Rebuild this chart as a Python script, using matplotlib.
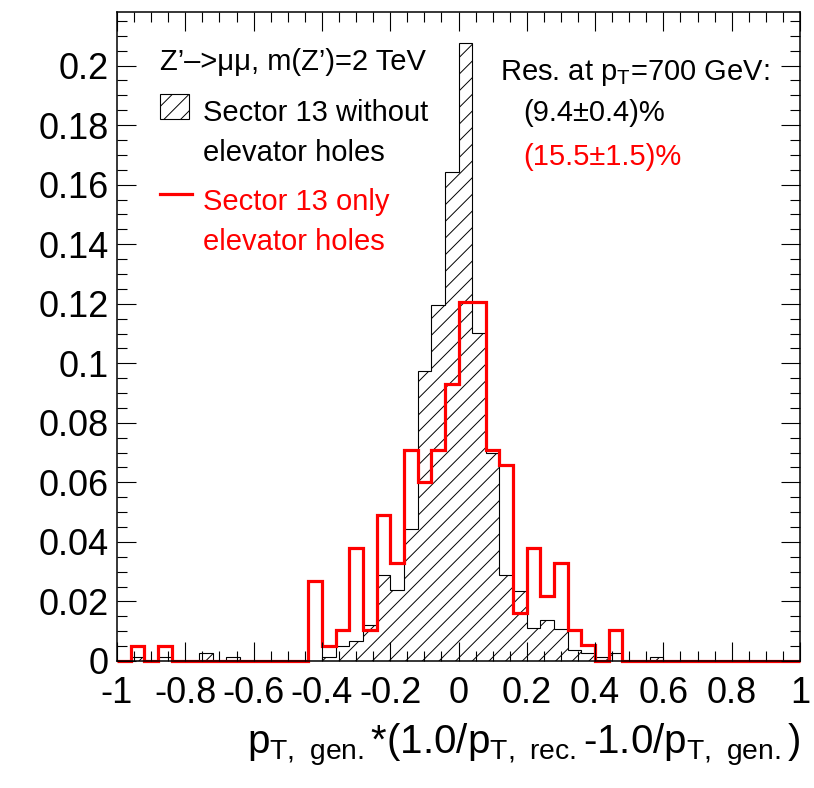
import numpy as np
import matplotlib
matplotlib.use("Agg")
import matplotlib.pyplot as plt
from matplotlib.patches import Rectangle
from matplotlib.lines import Line2D
from matplotlib.ticker import FixedLocator, MultipleLocator, FixedFormatter

plt.rcParams['font.family'] = ['Liberation Sans', 'DejaVu Sans']
plt.rcParams['mathtext.default'] = 'regular'
plt.rcParams['hatch.linewidth'] = 0.7

# ---- data (bin width 0.04 from -1 to 1) ----
bin_edges = np.round(np.linspace(-1.0, 1.0, 51), 2)

without_holes = [
    0, 0.0013, 0, 0.0013, 0, 0, 0.0026, 0, 0.0013, 0,
    0, 0, 0, 0, 0, 0.0013, 0.005, 0.0068, 0.012, 0.029,
    0.024, 0.0444, 0.0974, 0.1196, 0.1644, 0.2076, 0.1102, 0.070, 0.029, 0.0235,
    0.011, 0.0137, 0.0108, 0.0038, 0.0026, 0.0013, 0.0026, 0, 0, 0.0013,
    0, 0, 0, 0, 0, 0, 0, 0, 0, 0,
]
only_holes = [
    0, 0.0052, 0, 0.0052, 0, 0, 0, 0, 0, 0,
    0, 0, 0, 0, 0.027, 0.0052, 0.0105, 0.038, 0.0105, 0.049,
    0.033, 0.071, 0.060, 0.071, 0.093, 0.1206, 0.1206, 0.071, 0.066, 0.016,
    0.038, 0.022, 0.033, 0.0105, 0.0055, 0, 0.0105, 0, 0, 0,
    0, 0, 0, 0, 0, 0, 0, 0, 0, 0,
]

x_ticks = [-1, -0.8, -0.6, -0.4, -0.2, 0, 0.2, 0.4, 0.6, 0.8, 1]
x_tick_labels = ["-1", "-0.8", "-0.6", "-0.4", "-0.2", "0", "0.2", "0.4", "0.6", "0.8", "1"]
y_ticks = [0, 0.02, 0.04, 0.06, 0.08, 0.1, 0.12, 0.14, 0.16, 0.18, 0.2]
y_tick_labels = ["0", "0.02", "0.04", "0.06", "0.08", "0.1", "0.12", "0.14", "0.16", "0.18", "0.2"]

W, H = 814, 788
fig = plt.figure(figsize=(W / 100, H / 100), dpi=100)
L, R, T, B = 117, 800, 12, 661
ax = fig.add_axes([L / W, 1 - B / H, (R - L) / W, (B - T) / H])

ax.stairs(without_holes, bin_edges, fill=True, facecolor='white',
          edgecolor='black', hatch='//', linewidth=0.8)
ax.stairs(only_holes, bin_edges, color='red', linewidth=2.3, clip_on=False)

ax.set_xlim(-1, 1)
ax.set_ylim(0, 0.218)

ax.xaxis.set_major_locator(FixedLocator(x_ticks))
ax.xaxis.set_major_formatter(FixedFormatter(x_tick_labels))
ax.xaxis.set_minor_locator(MultipleLocator(0.05))
ax.yaxis.set_major_locator(FixedLocator(y_ticks))
ax.yaxis.set_major_formatter(FixedFormatter(y_tick_labels))
ax.yaxis.set_minor_locator(MultipleLocator(0.005))

ax.tick_params(which='both', direction='in', top=True, right=True, width=0.8)
ax.tick_params(which='major', length=14, labelsize=26)
ax.tick_params(axis='x', which='major', pad=11)
ax.tick_params(axis='y', which='major', pad=6)
ax.tick_params(which='minor', length=7)
for s in ax.spines.values():
    s.set_linewidth(1.1)

ax.set_xlabel(r'p$_{T,\ gen.}$*(1.0/p$_{T,\ rec.}$-1.0/p$_{T,\ gen.}$)',
              fontsize=29, loc='right', labelpad=8)

# ---- legend (manual, ROOT-like) ----
def ax_x(px):
    return (px - L) / (R - L)

def ax_y(py):
    return (B - py) / (B - T)

fs = 21
ax.text(ax_x(160), ax_y(70), 'Z\u2019\u2013>\u03bc\u03bc, m(Z\u2019)=2 TeV',
        transform=ax.transAxes, fontsize=fs, va='baseline', ha='left')
ax.add_patch(Rectangle((ax_x(160), ax_y(119)), ax_x(189) - ax_x(160),
                       ax_y(94) - ax_y(119), transform=ax.transAxes,
                       facecolor='white', edgecolor='black', hatch='//',
                       linewidth=0.8))
ax.text(ax_x(203), ax_y(121), 'Sector 13 without', transform=ax.transAxes,
        fontsize=fs, va='baseline', ha='left')
ax.text(ax_x(203), ax_y(161), 'elevator holes', transform=ax.transAxes,
        fontsize=fs, va='baseline', ha='left')
ax.add_line(Line2D([ax_x(160), ax_x(192)], [ax_y(194), ax_y(194)],
                   transform=ax.transAxes, color='red', linewidth=2.3))
ax.text(ax_x(203), ax_y(210), 'Sector 13 only', transform=ax.transAxes,
        fontsize=fs, va='baseline', ha='left', color='red')
ax.text(ax_x(203), ax_y(250), 'elevator holes', transform=ax.transAxes,
        fontsize=fs, va='baseline', ha='left', color='red')

ax.text(ax_x(500), ax_y(80), r'Res. at p$_{T}$=700 GeV:', transform=ax.transAxes,
        fontsize=fs, va='baseline', ha='left')
ax.text(ax_x(523), ax_y(121), '(9.4\u00b10.4)%', transform=ax.transAxes,
        fontsize=fs, va='baseline', ha='left')
ax.text(ax_x(523), ax_y(165), '(15.5\u00b11.5)%', transform=ax.transAxes,
        fontsize=fs, va='baseline', ha='left', color='red')

fig.savefig('out.png', dpi=100)
